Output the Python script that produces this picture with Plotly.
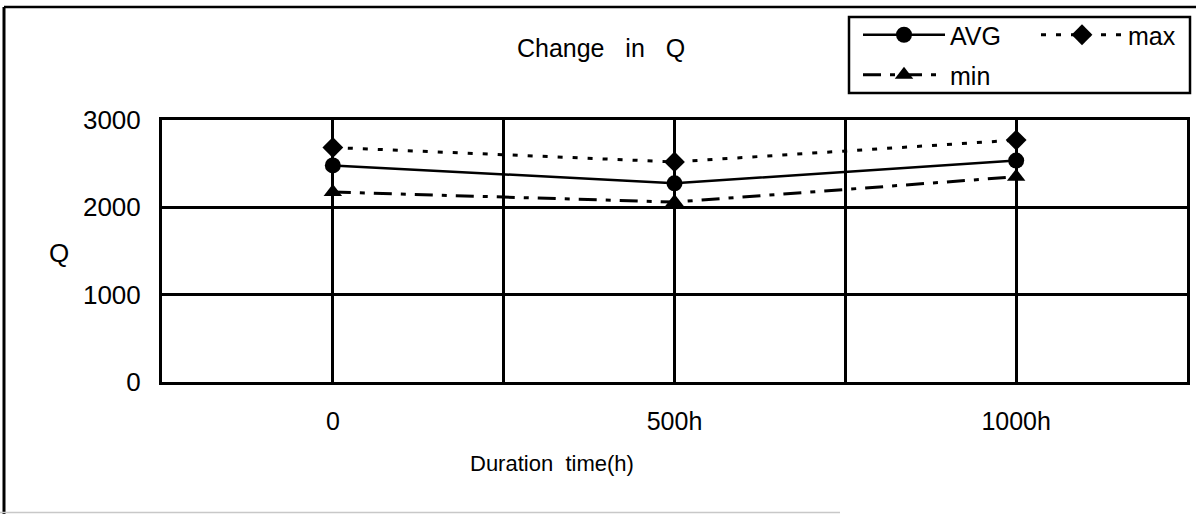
import plotly.graph_objects as go

# ---- data ----
categories = ["0", "500h", "1000h"]
hours = [0, 500, 1000]
avg_q = [2480, 2275, 2535]
max_q = [2685, 2520, 2770]
min_q = [2175, 2060, 2350]
y_ticks = [0, 1000, 2000, 3000]

W, H = 1196, 514
L, R, T, B = 162, 9, 120, 132
PW, PH = W - L - R, H - T - B

def px_x(p):
    return (p - L) / PW

def px_y(p):
    return (H - B - p) / PH

FONT = "Arial, Liberation Sans, sans-serif"

fig = go.Figure()
fig.add_trace(go.Scatter(
    x=hours, y=avg_q, name="AVG", mode="lines+markers",
    line=dict(color="black", width=2.5),
    marker=dict(symbol="circle", size=16, color="black"),
    legend="legend"))
fig.add_trace(go.Scatter(
    x=hours, y=max_q, name="max", mode="lines+markers",
    line=dict(color="black", width=3, dash="5px,10px"),
    marker=dict(symbol="diamond", size=16, color="black"),
    legend="legend2"))
fig.add_trace(go.Scatter(
    x=hours, y=min_q, name="min", mode="lines+markers",
    line=dict(color="black", width=3, dash="18px,9px,5px,9px"),
    marker=dict(symbol="triangle-up", size=16, color="black"),
    legend="legend3"))

leg_common = dict(xref="container", yref="container", xanchor="left", yanchor="middle",
                  bgcolor="rgba(0,0,0,0)", borderwidth=0, itemwidth=82,
                  font=dict(family=FONT, size=25, color="black"))
fig.update_layout(
    width=W, height=H,
    margin=dict(l=L, r=R, t=T, b=B, autoexpand=False),
    paper_bgcolor="white", plot_bgcolor="white",
    showlegend=True,
    legend=dict(x=858 / W, y=1 - 35 / H, **leg_common),
    legend2=dict(x=1036 / W, y=1 - 35 / H, **leg_common),
    legend3=dict(x=858 / W, y=1 - 75 / H, **leg_common),
    title=dict(text="Change\u00a0\u00a0\u00a0in\u00a0\u00a0\u00a0Q", x=601 / W, y=1 - 48 / H,
               xanchor="center", yanchor="middle", xref="container", yref="container",
               font=dict(family=FONT, size=25, color="black")),
    xaxis=dict(range=[-250, 1250], tickvals=hours, ticktext=categories,
               showgrid=True, gridcolor="black", gridwidth=2.5,
               minor=dict(tick0=-250, dtick=250, showgrid=True, gridcolor="black", gridwidth=2.5),
               showline=True, mirror=True, linecolor="black", linewidth=3,
               ticks="", ticklabelstandoff=15, zeroline=False,
               tickfont=dict(family=FONT, size=25, color="black")),
    yaxis=dict(range=[0, 3000], tickvals=y_ticks,
               showgrid=True, gridcolor="black", gridwidth=2.5,
               showline=True, mirror=True, linecolor="black", linewidth=3,
               ticks="", ticklabelstandoff=13, zeroline=False,
               tickfont=dict(family=FONT, size=26, color="black")),
)

fig.add_annotation(text="Q", xref="paper", yref="paper", x=px_x(59), y=px_y(253),
                   showarrow=False, xanchor="center", yanchor="middle",
                   font=dict(family=FONT, size=26, color="black"))
fig.add_annotation(text="Duration\u00a0\u00a0time(h)", xref="paper", yref="paper",
                   x=px_x(552), y=px_y(463), showarrow=False, xanchor="center", yanchor="middle",
                   font=dict(family=FONT, size=22, color="black"))

# legend frame
fig.add_shape(type="rect", xref="paper", yref="paper",
              x0=px_x(849), x1=px_x(1190), y0=px_y(93), y1=px_y(17),
              line=dict(color="black", width=2.5))
# outer frame
fig.add_shape(type="line", xref="paper", yref="paper",
              x0=px_x(4), x1=px_x(1200), y0=px_y(7), y1=px_y(7),
              line=dict(color="black", width=2.5))
fig.add_shape(type="line", xref="paper", yref="paper",
              x0=px_x(4), x1=px_x(4), y0=px_y(7), y1=px_y(514),
              line=dict(color="black", width=3))
fig.add_shape(type="line", xref="paper", yref="paper",
              x0=px_x(0), x1=px_x(840), y0=px_y(512.5), y1=px_y(512.5),
              line=dict(color="#c8c8c8", width=1.5))

fig.write_html("out.html")
